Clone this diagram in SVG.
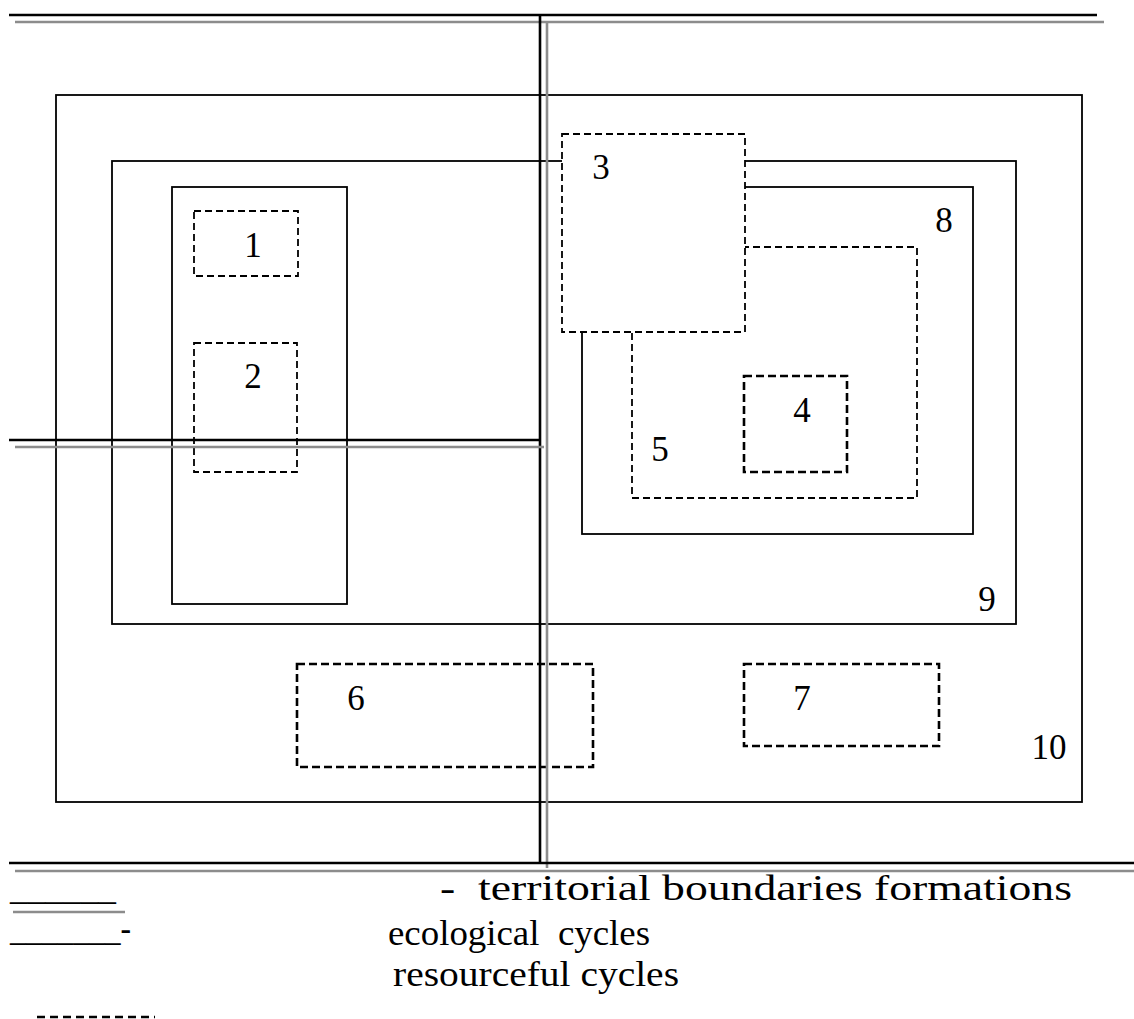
<svg xmlns="http://www.w3.org/2000/svg" width="1134" height="1019" viewBox="0 0 1134 1019">
<style>
.solid{fill:none;stroke:#000;stroke-width:1.8}
.dash{fill:none;stroke:#000;stroke-width:1.8;stroke-dasharray:7 4}
.dashw{fill:#fff;stroke:#000;stroke-width:1.8;stroke-dasharray:7 4}
.dashb{fill:none;stroke:#000;stroke-width:2.6;stroke-dasharray:8 4}
.bk{stroke:#000;stroke-width:2.6;fill:none}
.gr{stroke:#8c8c8c;stroke-width:2.6;fill:none}
.num{font-family:"Liberation Serif","Times New Roman",serif;font-size:35px;fill:#000;text-anchor:middle}
.leg{font-family:"Liberation Serif","Times New Roman",serif;font-size:36px;fill:#000;white-space:pre}
</style>
<rect width="1134" height="1019" fill="#fff"/>
<g id="node10"><rect class="solid" x="56" y="95" width="1026" height="707"/><text class="num" x="1049" y="759">10</text></g>
<g id="node9"><rect class="solid" x="112" y="161" width="904" height="463"/><text class="num" x="987" y="611">9</text></g>
<g id="node8"><rect class="solid" x="582" y="187" width="391" height="347"/><text class="num" x="944" y="232">8</text></g>
<g id="node5"><rect class="dash" x="632" y="247" width="285" height="251"/><text class="num" x="660" y="461">5</text></g>
<g id="node4"><rect class="dashb" x="744" y="376" width="103" height="96"/><text class="num" x="802" y="422">4</text></g>
<g id="nodeA"><rect class="solid" x="172" y="187" width="175" height="417"/></g>
<g id="node1"><rect class="dash" x="194" y="211" width="104" height="65"/><text class="num" x="253" y="257">1</text></g>
<g id="node2"><rect class="dash" x="194" y="343" width="103" height="129"/><text class="num" x="253" y="388">2</text></g>
<g id="node3"><rect class="dashw" x="562" y="134" width="183" height="198"/><text class="num" x="601" y="179">3</text></g>
<g id="node6"><rect class="dashb" x="297" y="664" width="296" height="103"/><text class="num" x="356" y="710">6</text></g>
<g id="node7"><rect class="dashb" x="744" y="664" width="195" height="82"/><text class="num" x="802" y="710">7</text></g>
<g id="connectors">
<line class="bk" x1="9" y1="15" x2="1097" y2="15"/>
<line class="gr" x1="15" y1="22" x2="1104" y2="22"/>
<line class="bk" x1="540" y1="15" x2="540" y2="863"/>
<line class="gr" x1="547" y1="22" x2="547" y2="868"/>
<line class="bk" x1="9" y1="440" x2="540" y2="440"/>
<line class="gr" x1="15" y1="447" x2="544" y2="447"/>
<line class="bk" x1="9" y1="863" x2="1134" y2="863"/>
<line class="gr" x1="15" y1="871" x2="1134" y2="871"/>
</g>
<g id="legend">
<text class="leg" x="10" y="899" textLength="106" lengthAdjust="spacingAndGlyphs">______</text>
<line class="gr" x1="13" y1="912" x2="125" y2="912"/>
<text class="leg" x="440" y="900" textLength="632" lengthAdjust="spacingAndGlyphs">-  territorial boundaries formations</text>
<text class="leg" x="10" y="940" textLength="121" lengthAdjust="spacingAndGlyphs">_______-</text>
<text class="leg" x="388" y="945" textLength="262" lengthAdjust="spacingAndGlyphs">ecological  cycles</text>
<text class="leg" x="393" y="986" textLength="286" lengthAdjust="spacingAndGlyphs">resourceful cycles</text>
<line class="dashb" x1="37" y1="1017" x2="155" y2="1017" style="stroke-dasharray:8 5"/>
</g>
</svg>
